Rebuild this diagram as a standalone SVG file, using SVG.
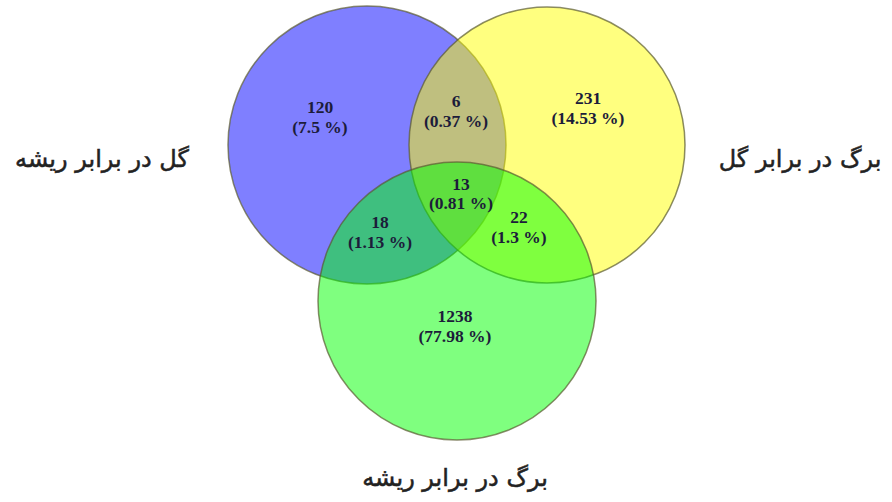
<svg xmlns="http://www.w3.org/2000/svg" width="892" height="502" viewBox="0 0 892 502">
<style>
.c{stroke:#5a5a30;stroke-opacity:0.7;stroke-width:1.5}
.n{font-family:"Liberation Serif",serif;font-weight:bold;font-size:17.5px;fill:#1c1c3a;text-anchor:middle}
.l{font-family:"DejaVu Sans","Noto Sans",sans-serif;font-size:24px;fill:#222;stroke:#222;stroke-width:0.5;text-anchor:middle}
</style>
<rect width="892" height="502" fill="#fff"/>
<g id="blue"><circle class="c" cx="367" cy="145" r="139" fill="#0000ff" fill-opacity="0.5"/></g>
<g id="yellow"><circle class="c" cx="547" cy="145" r="138" fill="#ffff00" fill-opacity="0.5"/></g>
<g id="green"><circle class="c" cx="457" cy="301" r="139" fill="#00ff00" fill-opacity="0.5"/></g>
<g id="values">
<text class="n" x="320" y="113">120</text><text class="n" x="320" y="133">(7.5 %)</text>
<text class="n" x="456" y="107">6</text><text class="n" x="456" y="127">(0.37 %)</text>
<text class="n" x="588" y="104">231</text><text class="n" x="588" y="124">(14.53 %)</text>
<text class="n" x="461" y="190">13</text><text class="n" x="461" y="209">(0.81 %)</text>
<text class="n" x="380" y="228">18</text><text class="n" x="380" y="248">(1.13 %)</text>
<text class="n" x="519" y="223">22</text><text class="n" x="519" y="243">(1.3 %)</text>
<text class="n" x="455" y="322">1238</text><text class="n" x="455" y="342">(77.98 %)</text>
</g>
<g id="labels">
<text class="l" x="102" y="167">گل در برابر ریشه</text>
<text class="l" x="800" y="167">برگ در برابر گل</text>
<text class="l" x="455" y="486">برگ در برابر ریشه</text>
</g>
</svg>
